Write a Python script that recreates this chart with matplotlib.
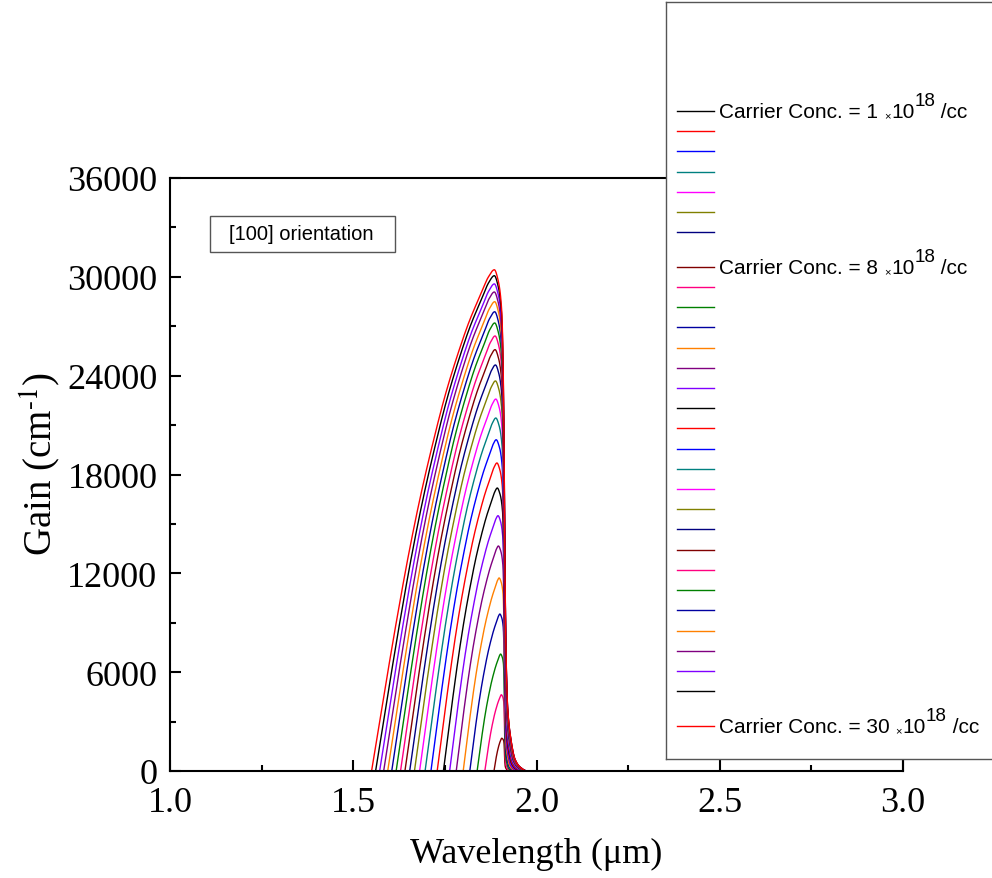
import numpy as np
import matplotlib
matplotlib.use("Agg")
import matplotlib.pyplot as plt
from matplotlib.patches import Rectangle

# ---------------- data ----------------
conc = list(range(1, 31))  # x10^18 /cc
peak_gain = [0, 0, 0, 0, 0, 0, 0,
             1990, 4630, 7100, 9530, 11720, 13660, 15500, 17180, 18700, 20110,
             21430, 22580, 23680, 24650, 25580, 26410, 27200, 27880, 28490,
             29080, 29570, 30070, 30430]
peak_wl = [1.910] * 7 + [1.905, 1.904, 1.902, 1.900, 1.898, 1.896, 1.895, 1.893,
                         1.892, 1.890, 1.889, 1.889, 1.888, 1.888, 1.887, 1.887,
                         1.886, 1.886, 1.886, 1.885, 1.885, 1.885, 1.885]
start_wl = [1.905] * 7 + [1.884, 1.859, 1.838, 1.818, 1.800, 1.781, 1.763, 1.746,
                          1.729, 1.712, 1.696, 1.681, 1.667, 1.654, 1.641, 1.629,
                          1.617, 1.605, 1.594, 1.583, 1.572, 1.561, 1.550]
# shared shape read from the outermost (30e18) curve
rise_t = [0, 0.1, 0.2, 0.3, 0.4, 0.5, 0.6, 0.7, 0.8, 0.9, 0.95, 1.0]
rise_g = [0, 0.15, 0.295, 0.43, 0.55, 0.655, 0.75, 0.83, 0.9, 0.957, 0.985, 1.0]
fall_dl = [0, 0.010, 0.020, 0.023, 0.026, 0.029, 0.032, 0.036,
           0.045, 0.056, 0.07, 0.09]
fall_g = [1, 0.98, 0.92, 0.85, 0.69, 0.40, 0.23, 0.13,
          0.064, 0.024, 0.008, 0]
edge_wl = 1.9126

colors14 = ['#000000', '#FF0000', '#0000FF', '#008080', '#FF00FF', '#808000',
            '#000080', '#800000', '#FF0080', '#008000', '#0000A0', '#FF8000',
            '#800080', '#8000FF']
labeled = {1: '1', 8: '8', 30: '30'}

xticks = [1.0, 1.5, 2.0, 2.5, 3.0]
yticks = [0, 6000, 12000, 18000, 24000, 30000, 36000]


def pchip(x, y, xn, m0=None, m1=None):
    x = np.asarray(x, float)
    y = np.asarray(y, float)
    h = np.diff(x)
    d = np.diff(y) / h
    m = np.zeros_like(y)
    for k in range(1, len(x) - 1):
        if d[k - 1] * d[k] > 0:
            w1 = 2 * h[k] + h[k - 1]
            w2 = h[k] + 2 * h[k - 1]
            m[k] = (w1 + w2) / (w1 / d[k - 1] + w2 / d[k])
    m[0] = d[0] if m0 is None else m0
    m[-1] = d[-1] if m1 is None else m1
    xn = np.clip(xn, x[0], x[-1])
    idx = np.clip(np.searchsorted(x, xn) - 1, 0, len(x) - 2)
    hh = h[idx]
    s = (xn - x[idx]) / hh
    h00 = 2 * s**3 - 3 * s**2 + 1
    h10 = s**3 - 2 * s**2 + s
    h01 = -2 * s**3 + 3 * s**2
    h11 = s**3 - s**2
    return h00 * y[idx] + h10 * hh * m[idx] + h01 * y[idx + 1] + h11 * hh * m[idx + 1]


# ---------------- figure ----------------
W, H = 992, 879
fig = plt.figure(figsize=(W / 100, H / 100), dpi=100)
ax = fig.add_axes([170 / W, 1 - 772 / H, 733 / W, 593 / H])

wl = np.linspace(1.0, 3.0, 8001)
for i, c in enumerate(conc):
    g = np.zeros_like(wl)
    if peak_gain[i] > 0:
        s, p = start_wl[i], peak_wl[i]
        w = (edge_wl - p) / (edge_wl - peak_wl[-1])
        left = (wl >= s) & (wl <= p)
        g[left] = pchip(rise_t, rise_g, (wl[left] - s) / (p - s), m1=0.0)
        right = wl > p
        g[right] = pchip(fall_dl, fall_g, (wl[right] - p) / w, m0=0.0, m1=0.0)
        g *= peak_gain[i]
    ax.plot(wl, g, color=colors14[i % 14], lw=1.0)

ax.set_xlim(1.0, 3.0)
ax.set_ylim(0, 36000)
ax.set_xticks(xticks)
ax.set_xticks([1.25, 1.75, 2.25, 2.75], minor=True)
ax.set_yticks(yticks)
ax.set_yticks([3000, 9000, 15000, 21000, 27000, 33000], minor=True)
ax.set_xticklabels([f"{v:.1f}" for v in xticks])
ax.set_yticklabels([str(v) for v in yticks])
ax.tick_params(which='both', direction='in', top=False, right=False,
               labelsize=26, width=1.5)
ax.tick_params(axis='y', which='major', length=8, pad=9)
ax.tick_params(axis='x', which='major', length=8, pad=11)
ax.tick_params(which='minor', length=4)
for lab in ax.get_xticklabels() + ax.get_yticklabels():
    lab.set_fontfamily('Liberation Serif')
for sp in ax.spines.values():
    sp.set_linewidth(1.5)

ax.set_xlabel("Wavelength (μm)", fontsize=26, family='Liberation Serif', labelpad=13)
ax.set_ylabel(r"Gain (cm$^{\text{-}1}$)", fontsize=28, family='Liberation Serif',
              math_fontfamily='stix')
ax.yaxis.set_label_coords(-0.146, 0.52)

# annotation box
ax.add_patch(Rectangle((0.0546, 0.875), 0.2524, 0.061, transform=ax.transAxes,
                       fill=False, edgecolor='#555555', lw=1.0))
ax.text(0.0805, 0.9056, "[100] orientation", transform=ax.transAxes,
        fontsize=14.5, family='Liberation Sans', va='center', ha='left')

# ---------------- legend (overlay panel) ----------------
lx0, ly0, lx1, ly1 = 666, 3, 1120, 760
lax = fig.add_axes([lx0 / W, 1 - ly1 / H, (lx1 - lx0) / W, (ly1 - ly0) / H])
lax.set_xlim(0, lx1 - lx0)
lax.set_ylim(ly1 - ly0, 0)
lax.set_xticks([])
lax.set_yticks([])
lax.set_facecolor('white')
for sp in lax.spines.values():
    sp.set_edgecolor('#555555')
    sp.set_linewidth(1.0)
lax.set_zorder(5)

fs = 15
y = 112 - ly0
for i, c in enumerate(conc):
    if i > 0:
        y += 20.2
        if c in labeled:
            y += 14.5
    lax.plot([677 - lx0, 714 - lx0], [y, y], color=colors14[i % 14], lw=1.0)
    if c in labeled:
        t1 = lax.text(719 - lx0, y + 6, "Carrier Conc. = " + labeled[c] + " ",
                      fontsize=fs, family='Liberation Sans', va='baseline', ha='left')
        t2 = lax.annotate("×", xy=(1, 0), xycoords=t1, xytext=(0, 0.5),
                          textcoords='offset points', fontsize=8,
                          family='Liberation Sans', va='bottom', ha='left')
        t3 = lax.annotate("10", xy=(1, 0), xycoords=t2, xytext=(0.5, -0.5),
                          textcoords='offset points', fontsize=fs,
                          family='Liberation Sans', va='bottom', ha='left')
        t4 = lax.annotate("18", xy=(1, 0), xycoords=t3, xytext=(0, 8.5),
                          textcoords='offset points', fontsize=13.5,
                          family='Liberation Sans', va='bottom', ha='left')
        lax.annotate(" /cc", xy=(1, 0), xycoords=t3, xytext=(15, 0),
                     textcoords='offset points', fontsize=fs,
                     family='Liberation Sans', va='bottom', ha='left')

fig.savefig("out.png", dpi=100)
